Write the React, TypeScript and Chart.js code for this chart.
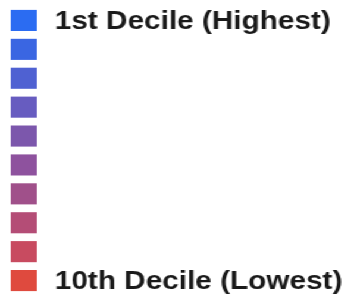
import React, { useEffect, useRef } from "react";
import { Chart, registerables } from "chart.js";

Chart.register(...registerables);

const TICK_LABELS = [
  "1st Decile (Highest)",
  "",
  "",
  "",
  "",
  "",
  "",
  "",
  "",
  "10th Decile (Lowest)",
];
const DECILE_VALUES = [1, 1, 1, 1, 1, 1, 1, 1, 1, 1];
const DECILE_COLORS = [
  "#2B6CF2",
  "#3A66E2",
  "#4F61D2",
  "#675CC0",
  "#7C57AC",
  "#8E529E",
  "#A0508A",
  "#B44D76",
  "#C84B60",
  "#DF4A3E",
];

const STRETCH = 1.19;
const BASE_W = 294;
const BASE_H = 297;

export default function App() {
  const ref = useRef<HTMLCanvasElement | null>(null);
  useEffect(() => {
    document.body.style.margin = "0";
    const chart = new Chart(ref.current as HTMLCanvasElement, {
      type: "bar",
      data: {
        labels: TICK_LABELS,
        datasets: [
          {
            data: DECILE_VALUES,
            backgroundColor: DECILE_COLORS,
            borderWidth: 0,
            categoryPercentage: 1,
            barPercentage: 0.73,
          },
        ],
      },
      options: {
        indexAxis: "y",
        animation: false,
        responsive: true,
        maintainAspectRatio: false,
        layout: { padding: { left: 9, top: 6, bottom: 2, right: 0 } },
        plugins: { legend: { display: false }, tooltip: { enabled: false } },
        scales: {
          x: { display: false, min: 0, max: 1 },
          y: {
            position: "right",
            grid: { display: false, drawTicks: false },
            border: { display: false },
            ticks: {
              autoSkip: false,
              padding: 15,
              labelOffset: 1.5,
              color: "#1a1a1a",
              font: { family: "'Liberation Sans', Arial, sans-serif", size: 25, weight: "bold" },
            },
            afterFit: (scale: any) => {
              scale.width = 263;
              scale.paddingTop = 0;
              scale.paddingBottom = 0;
            },
          },
        },
      },
    });
    return () => chart.destroy();
  }, []);
  return (
    <div
      style={{
        position: "fixed",
        left: 0,
        top: 0,
        width: BASE_W,
        height: BASE_H,
        transform: `scaleX(${STRETCH})`,
        transformOrigin: "0 0",
        background: "#fff",
      }}
    >
      <canvas ref={ref} />
    </div>
  );
}
